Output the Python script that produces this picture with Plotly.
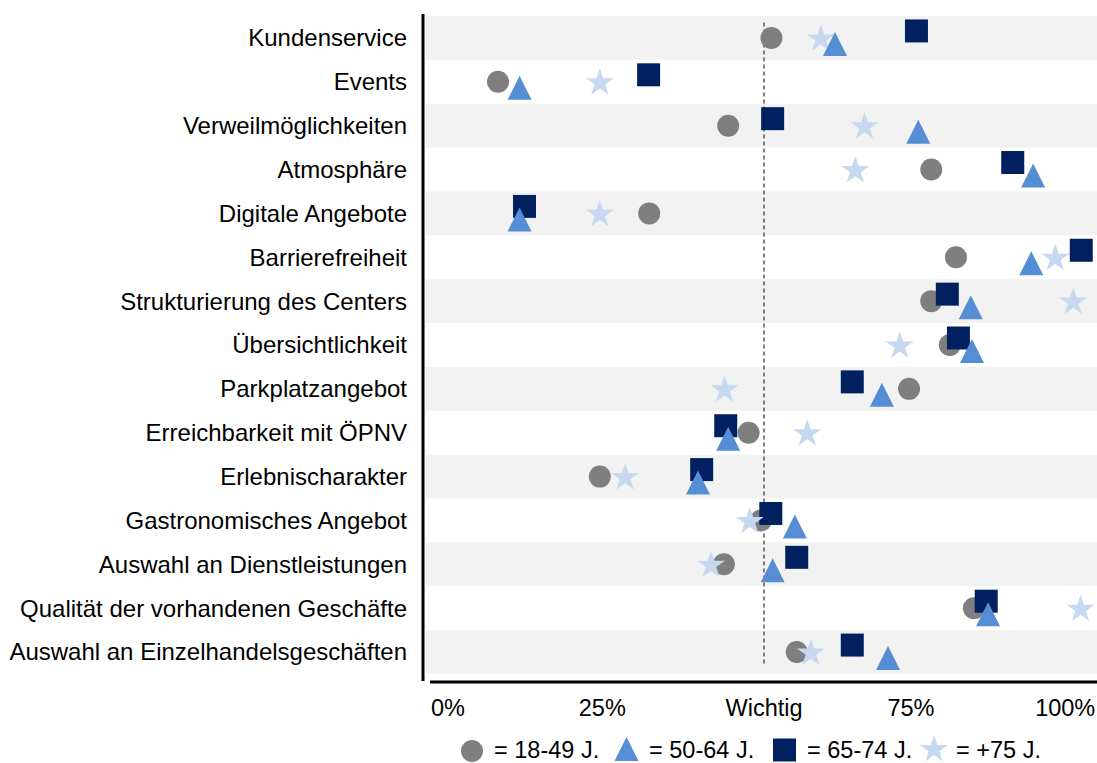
import plotly.graph_objects as go

# --- Daten -------------------------------------------------------------
kategorien = [
    "Kundenservice",
    "Events",
    "Verweilmöglichkeiten",
    "Atmosphäre",
    "Digitale Angebote",
    "Barrierefreiheit",
    "Strukturierung des Centers",
    "Übersichtlichkeit",
    "Parkplatzangebot",
    "Erreichbarkeit mit ÖPNV",
    "Erlebnischarakter",
    "Gastronomisches Angebot",
    "Auswahl an Dienstleistungen",
    "Qualität der vorhandenen Geschäfte",
    "Auswahl an Einzelhandelsgeschäften",
]

alter_18_49 = [52.4, 8.1, 45.4, 78.3, 32.6, 82.3, 78.3, 81.3, 74.7, 48.7, 24.6, 50.7, 44.7, 85.2, 56.5]
alter_50_64 = [62.7, 11.6, 76.2, 94.8, 11.6, 94.5, 84.7, 84.9, 70.3, 45.4, 40.5, 56.2, 52.6, 87.5, 71.3]
alter_65_74 = [75.9, 32.5, 52.6, 91.5, 12.4, 102.6, 80.9, 82.7, 65.5, 45.0, 41.1, 52.3, 56.5, 87.2, 65.5]
alter_75_plus = [60.4, 24.6, 67.5, 66.0, 24.6, 98.4, 101.3, 73.2, 44.8, 58.2, 28.7, 48.9, 42.6, 102.5, 58.8]

legenden_texte = ["= 18-49 J.", "= 50-64 J.", "= 65-74 J.", "= +75 J."]

x_tickwerte = [0, 25, 51.2, 75, 100]
x_ticktexte = ["0%", "25%", "Wichtig", "75%", "100%"]
wichtig_marke = 51.2

# --- Gestaltung ----------------------------------------------------------
W, H = 1097, 763
M_L, M_T = 423, 14
PLOT_BOTTOM = 682
ROW_PX = 43.87
FAMILY = "Liberation Sans, Arial, sans-serif"
FONT_Y = dict(family=FAMILY, size=24, color="#000000")
FONT_X = dict(family=FAMILY, size=23.5, color="#000000")
FONT_LEG = dict(family=FAMILY, size=23.5, color="#000000")

# Reihenfolge = Zeichenreihenfolge (unten -> oben)
serien = [
    # name, werte, symbol, farbe, groesse, vertikaler versatz (px), legenden-idx
    ("18-49 J.", alter_18_49, "circle", "#7F7F7F", 22, 0, 0),
    ("65-74 J.", alter_65_74, "square", "#002060", 23, -7, 2),
    ("+75 J.", alter_75_plus, "star", "#C6D9F1", 21, 1, 3),
    ("50-64 J.", alter_50_64, "arrow-up", "#558ED5", 24, -6, 1),
]

# Legendenpositionen (Pixelachse x2/y2)
legende_x = [472, 626.5, 784.5, 934]
legende_y = {"circle": 751, "square": 750, "star": 749.5, "arrow-up": 737}

n = len(kategorien)
y_top = -0.5 - 2 / ROW_PX
y_bottom = (n - 0.5) + 8 / ROW_PX

fig = go.Figure()

for name, werte, symbol, farbe, groesse, versatz, li in serien:
    fig.add_trace(go.Scatter(
        x=werte,
        y=[i + versatz / ROW_PX for i in range(n)],
        mode="markers",
        name=name,
        marker=dict(symbol=symbol, size=groesse, color=farbe, line=dict(width=0)),
        showlegend=False,
        cliponaxis=False,
        xaxis="x", yaxis="y",
    ))

# Legende als eigene Zeile unter dem Diagramm
for name, werte, symbol, farbe, groesse, versatz, li in sorted(serien, key=lambda s: s[6]):
    fig.add_trace(go.Scatter(
        x=[legende_x[li]],
        y=[legende_y[symbol]],
        mode="markers",
        marker=dict(symbol=symbol, size=groesse, color=farbe, line=dict(width=0)),
        showlegend=False,
        cliponaxis=False,
        hoverinfo="skip",
        xaxis="x2", yaxis="y2",
    ))

annotations = []
for li, text in enumerate(legenden_texte):
    annotations.append(dict(
        x=legende_x[li] + 20, y=750, xref="x2", yref="y2",
        text=text, showarrow=False, xanchor="left", yanchor="middle",
        font=FONT_LEG,
    ))

shapes = []
# Zeilenbänder
for i in range(0, n, 2):
    shapes.append(dict(
        type="rect", xref="x domain", yref="y",
        x0=3 / 674, x1=1, y0=i - 0.5, y1=i + 0.5,
        fillcolor="#F2F2F2", line=dict(width=0), layer="below",
    ))
# Schwelle "Wichtig"
shapes.append(dict(
    type="line", xref="x", yref="y",
    x0=wichtig_marke, x1=wichtig_marke, y0=-0.35, y1=n - 1 + 0.32,
    line=dict(color="#595959", width=1.5, dash="4px,3px"), layer="below",
))
# Achsenlinien
shapes.append(dict(
    type="line", xref="x domain", yref="y domain",
    x0=0, x1=0, y0=0.0015, y1=1,
    line=dict(color="#000000", width=3),
))
shapes.append(dict(
    type="line", xref="x domain", yref="y domain",
    x0=7 / 674, x1=1, y0=0, y1=0,
    line=dict(color="#000000", width=3),
))

plot_h = H - M_T
fig.update_layout(
    width=W, height=H,
    margin=dict(l=M_L, r=0, t=M_T, b=0, pad=0),
    paper_bgcolor="#FFFFFF", plot_bgcolor="#FFFFFF",
    font=FONT_Y,
    xaxis=dict(
        domain=[0, 1], range=[-4.05, 105.15],
        tickvals=x_tickwerte, ticktext=x_ticktexte,
        showgrid=False, zeroline=False, showline=False, ticks="",
        ticklabelstandoff=9, tickfont=FONT_X, anchor="y",
    ),
    yaxis=dict(
        domain=[(H - PLOT_BOTTOM) / plot_h, 1], range=[y_bottom, y_top],
        tickvals=list(range(n)), ticktext=kategorien,
        showgrid=False, zeroline=False, showline=False, ticks="",
        ticklabelstandoff=15, tickfont=FONT_Y, anchor="x",
    ),
    xaxis2=dict(domain=[0, 1], range=[M_L, W], visible=False, anchor="y2"),
    yaxis2=dict(domain=[0, 40 / plot_h], range=[H, H - 40], visible=False, anchor="x2"),
    shapes=shapes,
    annotations=annotations,
    showlegend=False,
)

fig.write_html("out.html")
